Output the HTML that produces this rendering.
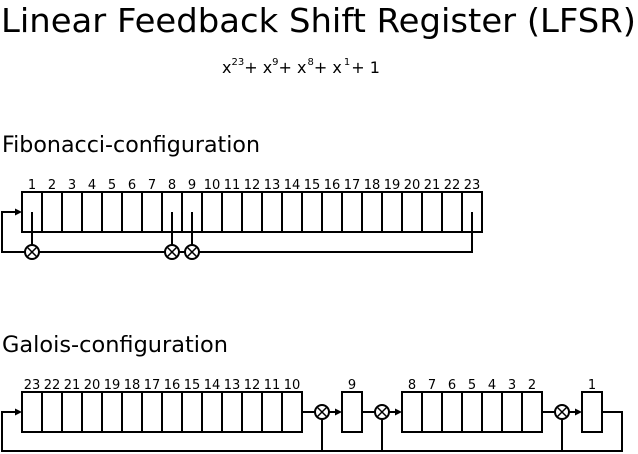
<!DOCTYPE html>
<html><head><meta charset="utf-8"><style>
html,body{margin:0;padding:0;background:#fff;width:638px;height:454px;overflow:hidden}
text{font-family:"DejaVu Sans","Liberation Sans",sans-serif;fill:#000}
</style></head><body>
<svg width="638" height="454" viewBox="0 0 638 454" xmlns="http://www.w3.org/2000/svg">
<defs>
<g id="x"><circle r="7" fill="#fff" stroke="#000" stroke-width="2"/><path d="M-5,-5L5,5M-5,5L5,-5" stroke="#000" stroke-width="1.5"/></g>
</defs>
<text x="1" y="32" font-size="33" textLength="635" lengthAdjust="spacingAndGlyphs">Linear Feedback Shift Register (LFSR)</text>
<text x="222" y="73" font-size="16">x<tspan dy="-8" font-size="10">23</tspan><tspan dy="8">+ x</tspan><tspan dy="-8" font-size="10">9</tspan><tspan dy="8">+ x</tspan><tspan dy="-8" font-size="10" dx="1">8</tspan><tspan dy="8">+ x</tspan><tspan dy="-8" font-size="10" dx="2">1</tspan><tspan dy="8" dx="1">+ 1</tspan></text>
<text x="2" y="152" font-size="22" textLength="258" lengthAdjust="spacingAndGlyphs">Fibonacci-configuration</text>
<text x="2" y="352" font-size="22" textLength="226" lengthAdjust="spacingAndGlyphs">Galois-configuration</text>

<g fill="none" stroke="#000" stroke-width="2">
<rect x="22" y="192" width="460" height="40"/>
<path d="M42,192V232M62,192V232M82,192V232M102,192V232M122,192V232M142,192V232M162,192V232M182,192V232M202,192V232M222,192V232M242,192V232M262,192V232M282,192V232M302,192V232M322,192V232M342,192V232M362,192V232M382,192V232M402,192V232M422,192V232M442,192V232M462,192V232"/>
<path d="M32,212V252M172,212V252M192,212V252M472,212V252H2V212H16"/>
<rect x="22" y="392" width="280" height="40"/>
<path d="M42,392V432M62,392V432M82,392V432M102,392V432M122,392V432M142,392V432M162,392V432M182,392V432M202,392V432M222,392V432M242,392V432M262,392V432M282,392V432"/>
<rect x="342" y="392" width="20" height="40"/>
<rect x="402" y="392" width="140" height="40"/>
<path d="M422,392V432M442,392V432M462,392V432M482,392V432M502,392V432M522,392V432"/>
<rect x="582" y="392" width="20" height="40"/>
<path d="M302,412H336M362,412H396M542,412H576M602,412H622V451H2V412H16M322,412V451M382,412V451M562,412V451"/>
</g>
<g fill="#000">
<path d="M22,212L15,208.5V215.5Z"/>
<path d="M22,412L15,408.5V415.5Z"/>
<path d="M342,412L335,408.5V415.5Z"/>
<path d="M402,412L395,408.5V415.5Z"/>
<path d="M582,412L575,408.5V415.5Z"/>
</g>
<use href="#x" x="32" y="252"/><use href="#x" x="172" y="252"/><use href="#x" x="192" y="252"/>
<use href="#x" x="322" y="412"/><use href="#x" x="382" y="412"/><use href="#x" x="562" y="412"/>
<g font-size="13" text-anchor="middle">
<text x="32" y="189">1</text><text x="52" y="189">2</text><text x="72" y="189">3</text><text x="92" y="189">4</text><text x="112" y="189">5</text><text x="132" y="189">6</text><text x="152" y="189">7</text><text x="172" y="189">8</text><text x="192" y="189">9</text><text x="212" y="189">10</text><text x="232" y="189">11</text><text x="252" y="189">12</text><text x="272" y="189">13</text><text x="292" y="189">14</text><text x="312" y="189">15</text><text x="332" y="189">16</text><text x="352" y="189">17</text><text x="372" y="189">18</text><text x="392" y="189">19</text><text x="412" y="189">20</text><text x="432" y="189">21</text><text x="452" y="189">22</text><text x="472" y="189">23</text>
<text x="32" y="389">23</text><text x="52" y="389">22</text><text x="72" y="389">21</text><text x="92" y="389">20</text><text x="112" y="389">19</text><text x="132" y="389">18</text><text x="152" y="389">17</text><text x="172" y="389">16</text><text x="192" y="389">15</text><text x="212" y="389">14</text><text x="232" y="389">13</text><text x="252" y="389">12</text><text x="272" y="389">11</text><text x="292" y="389">10</text>
<text x="352" y="389">9</text>
<text x="412" y="389">8</text><text x="432" y="389">7</text><text x="452" y="389">6</text><text x="472" y="389">5</text><text x="492" y="389">4</text><text x="512" y="389">3</text><text x="532" y="389">2</text>
<text x="592" y="389">1</text>
</g>
</svg>
</body></html>
